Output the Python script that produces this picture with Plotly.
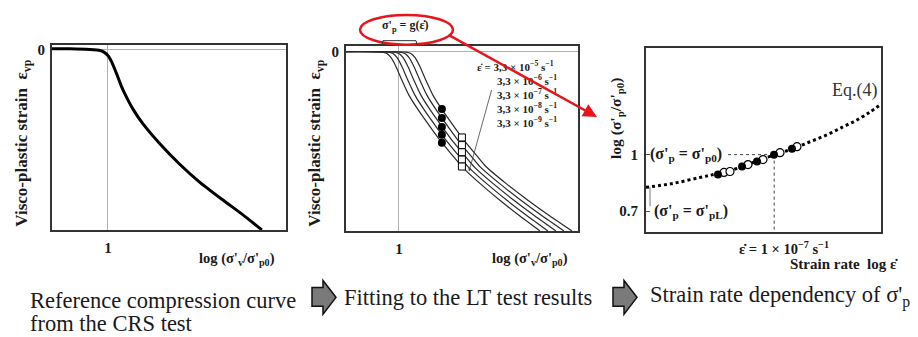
import plotly.graph_objects as go

W, H = 918, 337
FONT = "Liberation Serif"
INK = "#1a1a1a"

# ---------------- data ----------------
# Panel 1: reference compression curve (x = log(sigma'v/sigma'p0), y = visco-plastic strain)
ref_x = [-0.239, -0.162, -0.077, -0.034, -0.017, 0.0, 0.017, 0.038, 0.056, 0.073,
         0.107, 0.150, 0.222, 0.308, 0.393, 0.487, 0.573, 0.658]
ref_y = [0.005, 0.004, 0.0, -0.005, -0.014, -0.033, -0.071, -0.137, -0.198, -0.247,
         -0.330, -0.412, -0.522, -0.637, -0.736, -0.830, -0.912, -1.0]

# Panel 2: fitted curves for five strain rates (shared strain levels)
lt_strain = [0.0, -0.003, -0.011, -0.033, -0.083, -0.160, -0.243, -0.331,
             -0.425, -0.508, -0.575, -0.641, -0.735, -0.829, -0.917, -1.0]
lt_x_rate9 = [-0.2284, -0.0733, -0.0517, -0.0345, -0.0129, 0.0129, 0.0431, 0.0862,
              0.1379, 0.1853, 0.2284, 0.2716, 0.3491, 0.4353, 0.5216, 0.6078]
lt_x_rate8 = [-0.2284, -0.0474, -0.0259, -0.0086, 0.0129, 0.0388, 0.0690, 0.1121,
              0.1638, 0.2112, 0.2543, 0.2974, 0.3772, 0.4655, 0.5539, 0.6422]
lt_x_rate7 = [-0.2284, -0.0216, 0.0, 0.0172, 0.0388, 0.0647, 0.0948, 0.1379,
              0.1897, 0.2371, 0.2802, 0.3233, 0.4052, 0.4957, 0.5862, 0.6767]
lt_x_rate6 = [-0.2284, 0.0043, 0.0259, 0.0431, 0.0647, 0.0905, 0.1207, 0.1638,
              0.2155, 0.2629, 0.3060, 0.3491, 0.4332, 0.5259, 0.6185, 0.7112]
lt_x_rate5 = [-0.2284, 0.0302, 0.0517, 0.0690, 0.0905, 0.1164, 0.1466, 0.1897,
              0.2414, 0.2888, 0.3319, 0.3750, 0.4612, 0.5560, 0.6509, 0.7457]
lt_curves = [lt_x_rate5, lt_x_rate6, lt_x_rate7, lt_x_rate8, lt_x_rate9]

lt_filled_x = [0.1853, 0.1853, 0.1853, 0.1853, 0.1853]
lt_filled_y = [-0.3204, -0.3702, -0.4199, -0.4641, -0.5083]
lt_open_x = [0.2716, 0.2716, 0.2716, 0.2716, 0.2716]
lt_open_y = [-0.4790, -0.5215, -0.5613, -0.6022, -0.6409]

rate_labels = ["3,3 × 10<sup>−5</sup> s<sup>−1</sup>", "3,3 × 10<sup>−6</sup> s<sup>−1</sup>",
               "3,3 × 10<sup>−7</sup> s<sup>−1</sup>", "3,3 × 10<sup>−8</sup> s<sup>−1</sup>",
               "3,3 × 10<sup>−9</sup> s<sup>−1</sup>"]

# Panel 3: strain-rate dependency (x = log strain rate, y = sigma'p/sigma'p0)
eq4_x = [-10.0, -9.368, -8.736, -8.315, -7.730, -7.379, -6.981, -6.560, -6.162,
         -5.764, -5.390, -5.062, -4.758, -4.5]
eq4_y = [0.8263, 0.8474, 0.8789, 0.9, 0.9368, 0.9684, 1.0, 1.0316, 1.0684,
         1.1053, 1.1474, 1.1842, 1.2263, 1.2684]
sr_filled_x = [-8.315, -7.753, -7.402, -7.004, -6.583]
sr_filled_y = [0.8947, 0.9368, 0.9632, 1.0, 1.0316]
sr_open_x = [-8.175, -8.034, -7.613, -7.262, -6.864, -6.466]
sr_open_y = [0.9053, 0.9105, 0.9474, 0.9737, 1.0105, 1.0421]
ref_rate = -7.0
ratio_ref = 1.0
ratio_low = 0.7
guide_start = -8.08     # horizontal guide starts right after the label
pl_marker_x = -9.906    # small drop line to the lower-limit label
pl_marker_y = 0.726

# ---------------- helpers ----------------
def px(x):
    return x / W

def py(y):
    return 1 - y / H

fig = go.Figure()

# Panel 1
fig.add_trace(go.Scatter(x=ref_x, y=ref_y, mode="lines", line=dict(color="#000", width=3, shape="spline", smoothing=0.5),
                         xaxis="x", yaxis="y", hoverinfo="skip"))
# Panel 2
for cx in lt_curves:
    fig.add_trace(go.Scatter(x=cx, y=lt_strain, mode="lines", line=dict(color="#2a2a2a", width=1.2, shape="spline", smoothing=0.6),
                             xaxis="x2", yaxis="y2", hoverinfo="skip"))
fig.add_trace(go.Scatter(x=lt_filled_x, y=lt_filled_y, mode="markers",
                         marker=dict(color="#000", size=8, symbol="circle"), xaxis="x2", yaxis="y2"))
fig.add_trace(go.Scatter(x=lt_open_x, y=lt_open_y, mode="markers",
                         marker=dict(color="#fff", size=7, symbol="square", line=dict(color="#000", width=1)),
                         xaxis="x2", yaxis="y2"))
# Panel 3
fig.add_trace(go.Scatter(x=[guide_start, ref_rate], y=[ratio_ref, ratio_ref], mode="lines",
                         line=dict(color="#444", width=1, dash="dot"), xaxis="x3", yaxis="y3"))
fig.add_trace(go.Scatter(x=[ref_rate, ref_rate], y=[ratio_ref, 0.5895], mode="lines",
                         line=dict(color="#444", width=1, dash="dot"), xaxis="x3", yaxis="y3"))
fig.add_trace(go.Scatter(x=[pl_marker_x, pl_marker_x], y=[eq4_y[0], pl_marker_y], mode="lines",
                         line=dict(color="#555", width=0.8), xaxis="x3", yaxis="y3"))
fig.add_trace(go.Scatter(x=eq4_x, y=eq4_y, mode="lines", line=dict(color="#000", width=3, dash="dot", shape="spline"),
                         xaxis="x3", yaxis="y3"))
fig.add_trace(go.Scatter(x=sr_open_x, y=sr_open_y, mode="markers",
                         marker=dict(color="#fff", size=8, symbol="circle", line=dict(color="#000", width=1.2)),
                         xaxis="x3", yaxis="y3"))
fig.add_trace(go.Scatter(x=sr_filled_x, y=sr_filled_y, mode="markers",
                         marker=dict(color="#000", size=8, symbol="circle"), xaxis="x3", yaxis="y3"))

axis_common = dict(showline=True, mirror=True, linecolor="#333", linewidth=2, zeroline=False,
                   ticks="", tickfont=dict(family=FONT, size=15, color=INK), fixedrange=True)

fig.update_layout(
    width=W, height=H, margin=dict(l=0, r=0, t=0, b=0),
    paper_bgcolor="white", plot_bgcolor="white", showlegend=False,
    font=dict(family=FONT, color=INK),
    xaxis=dict(axis_common, domain=[px(52), px(286)], range=[-0.239, 0.761], anchor="y",
               tickvals=[0], ticktext=["<b>1</b>"], showgrid=True, gridcolor="#b0b0b0", gridwidth=1,
               ticklabelstandoff=3),
    yaxis=dict(axis_common, domain=[py(229), py(42)], range=[-1, 0.0275], anchor="x",
               tickvals=[0], ticktext=["<b>0</b>"], showgrid=True, gridcolor="#b0b0b0", gridwidth=1,
               ticklabelstandoff=2),
    xaxis2=dict(axis_common, domain=[px(346), px(578)], range=[-0.228, 0.772], anchor="y2",
                tickvals=[0], ticktext=["<b>1</b>"], showgrid=True, gridcolor="#b0b0b0", gridwidth=1,
                ticklabelstandoff=3),
    yaxis2=dict(axis_common, domain=[py(230), py(43)], range=[-1, 0.033], anchor="x2",
                tickvals=[0], ticktext=["<b>0</b>"], showgrid=True, gridcolor="#b0b0b0", gridwidth=1,
                ticklabelstandoff=2),
    xaxis3=dict(axis_common, domain=[px(646), px(881)], range=[-10, -4.5], anchor="y3",
                tickvals=[], showgrid=False),
    yaxis3=dict(axis_common, domain=[py(231), py(45)], range=[0.5895, 1.5684], anchor="x3",
                tickvals=[ratio_ref, ratio_low], ticktext=["<b>1</b>", "<b>0.7</b>"], showgrid=False,
                ticks="inside", ticklen=4, tickcolor="#555", ticklabelstandoff=3),
)

ann = []
def text(x, y, s, size=13, bold=True, angle=0, xanchor="center", yanchor="middle", color=INK, pad=1):
    ann.append(dict(x=px(x), y=py(y), xref="paper", yref="paper", text=(f"<b>{s}</b>" if bold else s),
                    showarrow=False, textangle=angle, xanchor=xanchor, yanchor=yanchor, borderpad=pad,
                    font=dict(family=FONT, size=size, color=color)))

# Panel 1 texts
text(23, 142, "Visco-plastic strain  ε<sub>vp</sub>", size=17, angle=-90)
text(237, 258, "log (σ'<sub>v</sub>/σ'<sub>p0</sub>)", size=14.5)
# Panel 2 texts
text(316, 142, "Visco-plastic strain  ε<sub>vp</sub>", size=17, angle=-90)
text(530, 258, "log (σ'<sub>v</sub>/σ'<sub>p0</sub>)", size=14.5)
text(475, 64, "ε̇ = " + rate_labels[0], size=11, xanchor="left")
for i, lab in enumerate(rate_labels[1:]):
    text(495, 78 + 14 * i, lab, size=11, xanchor="left")
text(405, 23, "σ'<sub>p</sub> = g(ε̇)", size=12)
# Panel 3 texts
text(617, 117, "log (σ'<sub>p</sub>/σ'<sub>p0</sub>)", size=15.5, angle=-90)
text(648, 153, "(σ'<sub>p</sub> = σ'<sub>p0</sub>)", size=16, xanchor="left")
text(652, 210, "(σ'<sub>p</sub> = σ'<sub>pL</sub>)", size=16, xanchor="left")
text(854, 88, "Eq.(4)", size=18, bold=False, color="#333")
text(784, 257, "ε̇ = 1 × 10<sup>−7</sup> s<sup>−1</sup>", size=14.5, yanchor="bottom", pad=0)
text(899, 254, "Strain rate  log ε̇", size=15, xanchor="right", yanchor="top", pad=0)
# Bottom captions
text(28, 300, "Reference compression curve", size=22.5, bold=False, xanchor="left")
text(28, 323, "from the CRS test", size=22.5, bold=False, xanchor="left")
text(342, 297, "Fitting to the LT test results", size=22.5, bold=False, xanchor="left")
text(648, 296, "Strain rate dependency of σ'<sub>p</sub>", size=22.5, bold=False, xanchor="left")

# arrows
ann.append(dict(x=px(469), y=py(170), xref="paper", yref="paper", ax=23, ay=-83, showarrow=True,
                arrowhead=2, arrowsize=0.8, arrowwidth=0.8, arrowcolor="#444", text=""))
ann.append(dict(x=px(597), y=py(115), xref="paper", yref="paper", ax=-150, ay=-83, showarrow=True,
                arrowhead=2, arrowsize=1.1, arrowwidth=2.5, arrowcolor="#e8141c", text=""))
fig.update_layout(annotations=ann)

shapes = []
# red ellipse
shapes.append(dict(type="circle", xref="paper", yref="paper", x0=px(360), x1=px(453), y0=py(42), y1=py(12),
                   line=dict(color="#e8141c", width=2.5)))
# bracket under the ellipse text
def path(points, close=False):
    d = "M " + " L ".join(f"{px(a):.5f},{py(b):.5f}" for a, b in points)
    return d + (" Z" if close else "")
shapes.append(dict(type="path", xref="paper", yref="paper", path=path([(382, 42), (383, 38), (416, 38), (417, 42)]),
                   line=dict(color="#333", width=1)))
# block arrows between captions
for x0 in (312, 613):
    pts = [(x0, 287), (x0 + 11, 287), (x0 + 11, 280), (x0 + 24, 297), (x0 + 11, 314), (x0 + 11, 306), (x0, 306)]
    shapes.append(dict(type="path", xref="paper", yref="paper", path=path(pts, close=True),
                       fillcolor="#7a7a7a", line=dict(color="#111", width=1.5)))
fig.update_layout(shapes=shapes)

fig.write_html("out.html")
